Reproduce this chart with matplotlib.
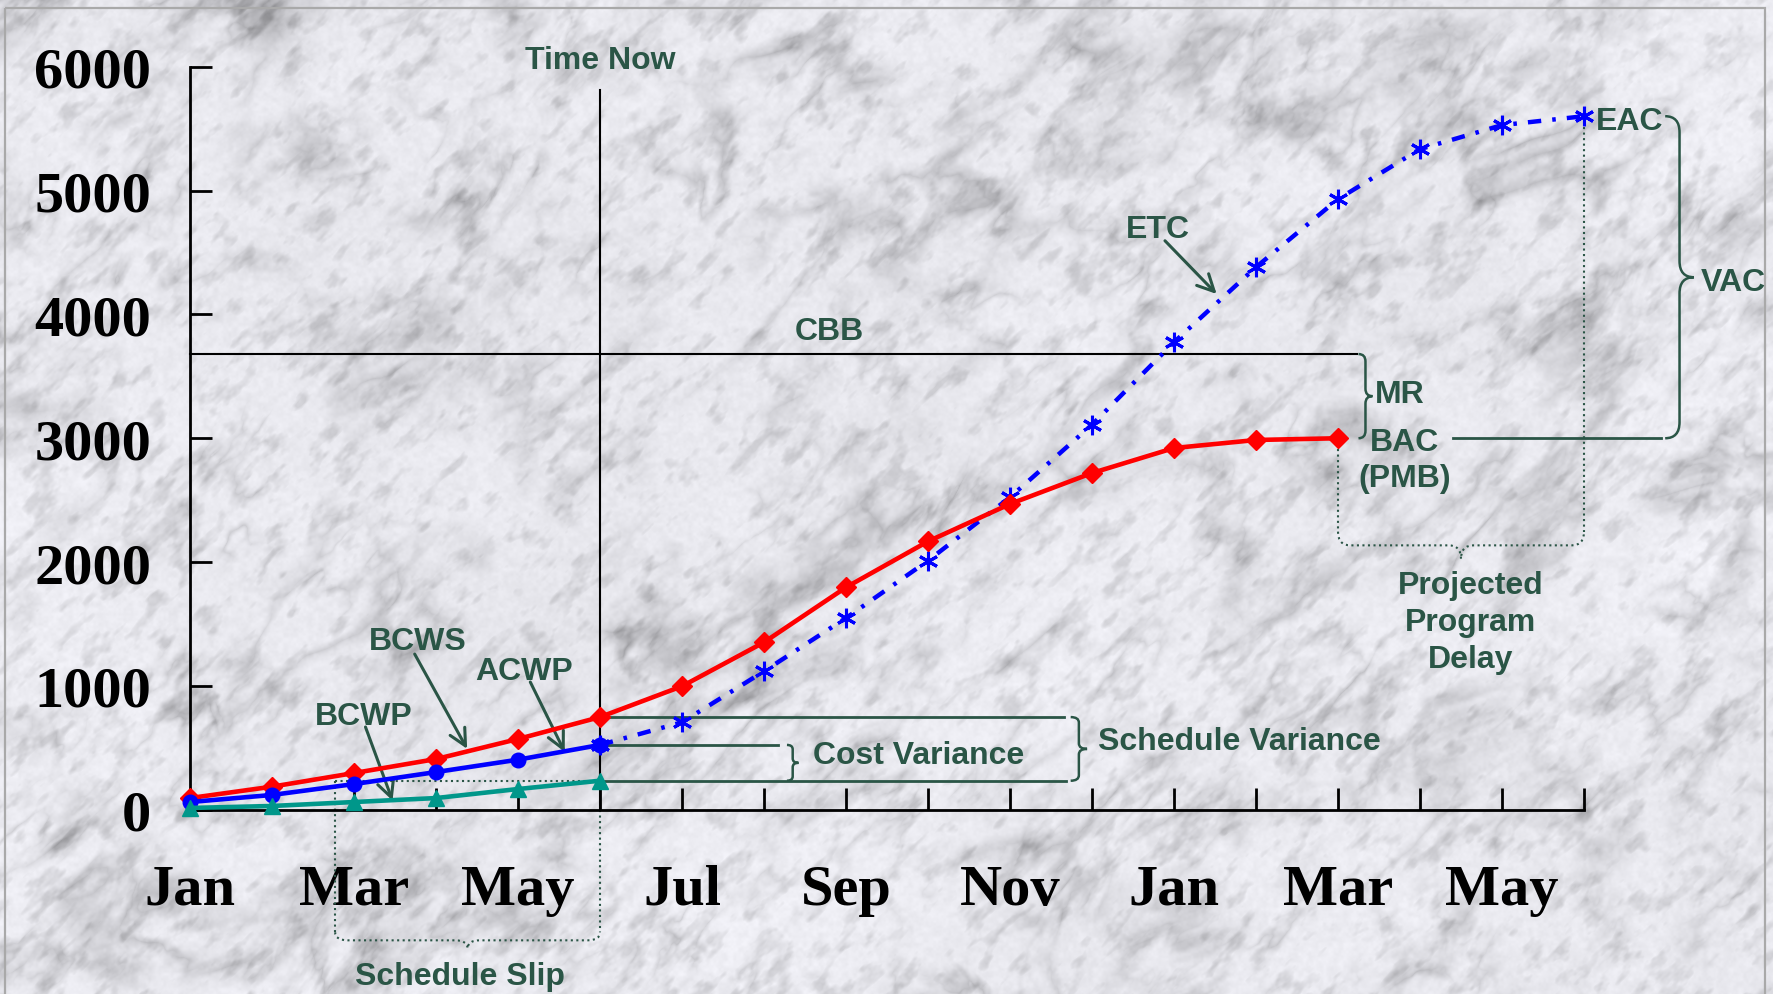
import numpy as np
import matplotlib
matplotlib.use("Agg")
import matplotlib.pyplot as plt
from matplotlib.path import Path
from matplotlib.patches import PathPatch, Rectangle

# ---- data -------------------------------------------------------------
month_labels = ["Jan", "Mar", "May", "Jul", "Sep", "Nov", "Jan", "Mar", "May"]
n_months = 18                       # Jan (year 1) .. Jun (year 2)
time_now = 5                        # June, year 1

bcws = [94, 186, 296, 409, 571, 748, 997, 1352, 1796, 2167, 2469, 2719,
        2921, 2986, 3000]           # planned value, Jan .. Mar (year 2)
acwp = [62, 119, 207, 304, 404, 523]   # actual cost to date
bcwp = [14, 30, 62, 94, 167, 234]      # earned value to date
etc_path = [523, 706, 1118, 1548, 2011, 2523, 3109, 3776, 4382, 4931,
            5335, 5529, 5601]          # estimate to complete, Jun .. Jun
cbb = 3680
slip_start = 1.77                      # date the plan reached today's earned value

y_ticks = [0, 1000, 2000, 3000, 4000, 5000, 6000]

# ---- styling ----------------------------------------------------------
GREEN = "#2a5546"
TEAL = "#00978a"
RED = "#ff0000"
BLUE = "#0000ff"
SANS = ["Liberation Sans", "DejaVu Sans"]
SERIF = ["Liberation Serif", "DejaVu Serif"]
TXT = dict(color=GREEN, fontsize=23, fontweight="bold", family=SANS)

W, H = 1773, 995
fig = plt.figure(figsize=(W / 100, H / 100), dpi=100)

# ---- marble backdrop --------------------------------------------------
def lattice(i, j):
    v = np.sin(i * 127.1 + j * 311.7) * 43758.5453
    return v - np.floor(v)

def value_noise(x, y):
    xi, yi = np.floor(x), np.floor(y)
    xf, yf = x - xi, y - yi
    u = xf * xf * (3 - 2 * xf)
    v = yf * yf * (3 - 2 * yf)
    a = lattice(xi, yi)
    b = lattice(xi + 1, yi)
    c = lattice(xi, yi + 1)
    d = lattice(xi + 1, yi + 1)
    return a + (b - a) * u + (c - a) * v + (a - b - c + d) * u * v

def fbm(x, y, octaves):
    total, amp, freq, norm = 0.0, 0.5, 1.0, 0.0
    for o in range(octaves):
        total = total + amp * value_noise(x * freq + 17.3 * o, y * freq + 9.1 * o)
        norm += amp
        amp *= 0.5
        freq *= 2.0
    return total / norm

yy, xx = np.mgrid[0:H, 0:W].astype(float)
P = (xx - yy) / np.sqrt(2)
Q = (xx + yy) / np.sqrt(2)
clouds = fbm(P / 260.0, Q / 200.0, 4)
warp = fbm(P / 180.0 + 5.2, Q / 110.0 + 1.3, 3)
f1 = fbm(P / 120.0 + 1.6 * warp, Q / 60.0 + 1.6 * warp, 5)
f2 = fbm(P / 55.0 + 3.1 + warp, Q / 28.0 + 7.7 + warp, 4)
mask1 = np.clip((fbm(P / 90.0 + 11.0, Q / 90.0 + 4.0, 3) - 0.38) * 3.0, 0, 1)
mask2 = np.clip((fbm(P / 60.0 + 2.0, Q / 60.0 + 21.0, 3) - 0.42) * 3.0, 0, 1)
v1 = np.clip(1 - np.abs(f1 - 0.5) * 7, 0, 1) ** 1.5
v2 = np.clip(1 - np.abs(f2 - 0.5) * 6, 0, 1) ** 1.5
mottle = np.clip((fbm(P / 22.0 + 3.3, Q / 11.0 + 8.8, 3) - 0.56) * 4.0, 0, 1)
grain = fbm(xx / 5.0, yy / 5.0, 2)
g = (0.935 + 0.07 * (clouds - 0.5) - 0.17 * v1 * mask1 - 0.12 * v2 * mask2
     - 0.10 * mottle + 0.05 * (grain - 0.5))
g = np.clip(g, 0.55, 0.985)
marble = np.dstack([g * 0.985, g * 0.985, np.clip(g * 1.01, 0, 1)])

bg = fig.add_axes([0, 0, 1, 1], zorder=0)
bg.imshow(marble, extent=[0, W, H, 0], aspect="auto", interpolation="bilinear")
bg.set_xlim(0, W)
bg.set_ylim(H, 0)
bg.axis("off")
bg.add_patch(Rectangle((5, 9), 1760, 1100, fill=False, edgecolor="#a9a9a9", lw=1.6))

# ---- main axes --------------------------------------------------------
ax = fig.add_axes([190 / W, 1 - 810.7 / H, 1394 / W, 742.9 / H], zorder=1)
ax.patch.set_alpha(0)
ax.set_xlim(0, n_months - 1)
ax.set_ylim(y_ticks[0], y_ticks[-1])
for side in ("top", "right"):
    ax.spines[side].set_visible(False)
for side in ("left", "bottom"):
    ax.spines[side].set_linewidth(2)
ax.set_xticks(np.arange(n_months))
ax.set_xticklabels([month_labels[i // 2] if i % 2 == 0 else "" for i in range(n_months)])
ax.set_yticks(y_ticks)
ax.set_yticklabels([str(v) for v in y_ticks])
ax.tick_params(axis="both", direction="in", length=16, width=2)
ax.tick_params(axis="x", pad=39)
ax.tick_params(axis="y", pad=28)
for lab in ax.get_xticklabels() + ax.get_yticklabels():
    lab.set_fontfamily(SERIF)
    lab.set_fontweight("bold")
    lab.set_fontsize(42)

m_bcws = np.arange(len(bcws))
m_act = np.arange(len(acwp))
m_etc = np.arange(len(etc_path)) + time_now
bac = bcws[-1]
eac = etc_path[-1]

# ---- reference lines -----------------------------------------------------
ax.plot([time_now, time_now], [0, 5810], color="black", lw=1.5, clip_on=False, zorder=2)
ax.text(time_now, 6055, "Time Now", ha="center", va="center", **TXT)
ax.plot([0, 14.23], [cbb, cbb], color="black", lw=1.5, clip_on=False, zorder=2)
ax.text(7.8, 3869, "CBB", ha="center", va="center", **TXT)

# variance bars at time now
ax.plot([time_now, 10.66], [bcws[time_now], bcws[time_now]], color=GREEN, lw=2, zorder=2)
ax.plot([time_now, 10.68], [bcwp[-1], bcwp[-1]], color=GREEN, lw=2, zorder=2)
ax.plot([time_now, 7.17], [acwp[-1], acwp[-1]], color=GREEN, lw=2, zorder=2)

# schedule slip guides
ax.plot([slip_start, time_now], [bcwp[-1], bcwp[-1]], color=GREEN, lw=1.5, ls=":", zorder=2)
ax.plot([slip_start, slip_start], [bcwp[-1], -990], color=GREEN, lw=1.5, ls=":", clip_on=False)
ax.plot([time_now, time_now], [0, -990], color=GREEN, lw=1.5, ls=":", clip_on=False)

# projected delay guides
ax.plot([14, 14], [bac, 2245], color=GREEN, lw=1.5, ls=":", clip_on=False)
ax.plot([n_months - 1, n_months - 1], [eac, 2245], color=GREEN, lw=1.5, ls=":", clip_on=False)
ax.plot([15.4, 17.94], [bac, bac], color=GREEN, lw=2, clip_on=False)


def brace(a0, a1, b, w, r, vertical=True, **kw):
    """Curly brace spanning a0..a1 along one axis, bulging by w along the other."""
    h = w / 2
    s = 1 if a1 > a0 else -1
    am = (a0 + a1) / 2
    pts = [(a0, b), (a0, b + h), (a0 + s * r, b + h), (am - s * r, b + h),
           (am, b + h), (am, b + w), (am, b + h), (am + s * r, b + h),
           (a1 - s * r, b + h), (a1, b + h), (a1, b)]
    if vertical:
        pts = [(bb, aa) for aa, bb in pts]
    codes = [Path.MOVETO, Path.CURVE3, Path.CURVE3, Path.LINETO, Path.CURVE3,
             Path.CURVE3, Path.CURVE3, Path.CURVE3, Path.LINETO, Path.CURVE3, Path.CURVE3]
    ax.add_patch(PathPatch(Path(pts, codes), fill=False, clip_on=False, **kw))


brace(cbb, bac, 14.25, 0.17, 60, edgecolor=GREEN, lw=1.8)
brace(eac, bac, 17.99, 0.35, 130, edgecolor=GREEN, lw=1.8)
brace(bcws[time_now], bcwp[-1], 10.74, 0.2, 45, edgecolor=GREEN, lw=1.8)
brace(acwp[-1], bcwp[-1], 7.28, 0.14, 35, edgecolor=GREEN, lw=1.8)
brace(slip_start, time_now, -990, -130, 0.15, vertical=False,
      edgecolor=GREEN, lw=1.5, ls=":")
brace(14, n_months - 1, 2245, -220, 0.15, vertical=False,
      edgecolor=GREEN, lw=1.5, ls=":")

# ---- series -------------------------------------------------------------
ax.plot(m_etc, etc_path, color=BLUE, lw=3.2, ls=(0, (3, 2.5, 0.8, 2.5)),
        marker=(6, 2, 0), ms=14, mew=2.2, clip_on=False, zorder=4)
ax.plot(m_bcws, bcws, color=RED, lw=3.3, marker="D", ms=10.5, clip_on=False, zorder=5)
ax.plot(m_act, acwp, color=BLUE, lw=3.3, marker="o", ms=10.5, clip_on=False, zorder=5)
ax.plot(m_act, bcwp, color=TEAL, lw=3.3, marker="^", ms=12, clip_on=False, zorder=5)

# ---- labels --------------------------------------------------------------
ARROW = dict(arrowstyle="->", color=GREEN, lw=2.2, mutation_scale=30,
             shrinkA=0, shrinkB=0)

def pointer(text, pos, start, tip):
    ax.text(*pos, text, ha="center", va="center", **TXT)
    ax.annotate("", xy=tip, xytext=start, arrowprops=ARROW, annotation_clip=False)

pointer("BCWS", (2.78, 1365), (2.74, 1257), (3.38, 491))
pointer("ACWP", (4.07, 1123), (4.15, 1031), (4.57, 466))
pointer("BCWP", (2.12, 759), (2.14, 668), (2.47, 73))
pointer("ETC", (11.8, 4690), (11.89, 4595), (12.52, 4165))

ax.text(7.6, 442, "Cost Variance", ha="left", va="center", **TXT)
ax.text(11.07, 557, "Schedule Variance", ha="left", va="center", **TXT)
ax.text(3.29, -1340, "Schedule Slip", ha="center", va="center", clip_on=False, **TXT)
ax.text(14.45, 3357, "MR", ha="left", va="center", **TXT)
ax.text(14.81, 2826, "BAC\n(PMB)", ha="center", va="center", linespacing=1.25, **TXT)
ax.text(17.14, 5565, "EAC", ha="left", va="center", clip_on=False, **TXT)
ax.text(18.42, 4260, "VAC", ha="left", va="center", clip_on=False, **TXT)
ax.text(15.62, 1514, "Projected\nProgram\nDelay", ha="center", va="center",
        linespacing=1.3, **TXT)

fig.savefig("out.png", dpi=100)
